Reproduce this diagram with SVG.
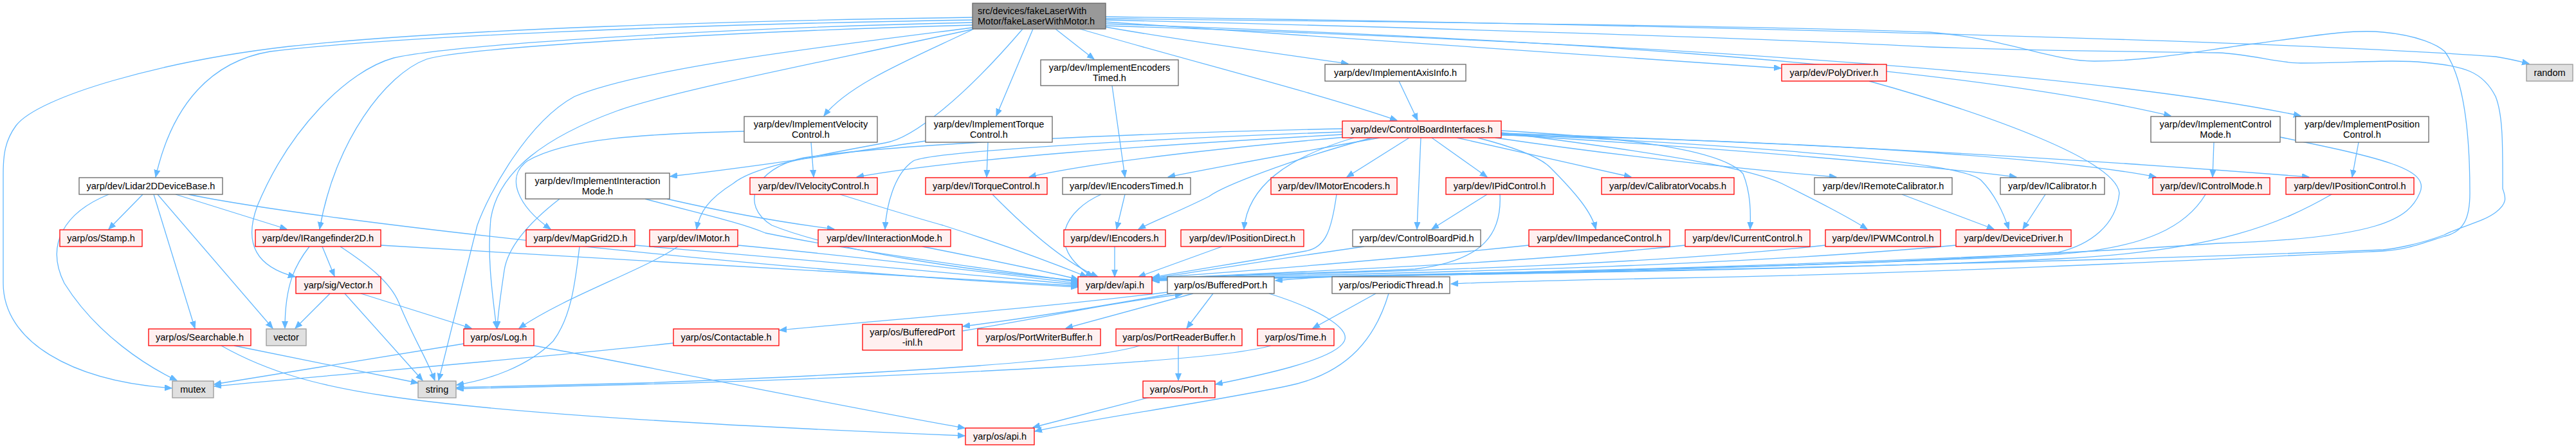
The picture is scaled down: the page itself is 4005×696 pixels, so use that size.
<svg xmlns="http://www.w3.org/2000/svg" width="4005" height="696" viewBox="0 0 4005 696">
<style>
text{font-family:"Liberation Sans",Arial,sans-serif;font-size:14.5px;fill:#000;text-anchor:middle}
.l{text-anchor:start}
.r{fill:#fff0f0;stroke:#f00;stroke-width:1.3}
.w{fill:#fff;stroke:#666;stroke-width:1.3}
.g{fill:#e0e0e0;stroke:#999;stroke-width:1.3}
.t{fill:#999;stroke:#666;stroke-width:1.3}
#edges path{fill:none;stroke:#63b8ff;stroke-width:1.3;marker-end:url(#a)}
</style>
<defs>
<marker id="a" markerWidth="12" markerHeight="10" refX="11" refY="4.5" orient="auto" markerUnits="userSpaceOnUse"><path d="M0,0 L11,4.5 L0,9 z" fill="#63b8ff" stroke="#63b8ff" stroke-width="1"/></marker>
</defs>
<rect width="4005" height="696" fill="#fff"/>
<g id="edges">
<path d="M1512,27 C1150,32 700,45 450,72 C250,95 60,150 25,195 C8,218 5,240 5,270 L5,440 C5,530 110,592 267,603"/>
<path d="M1512,31 C1050,38 600,58 420,80 C330,95 268,160 242,275"/>
<path d="M1512,35 C1100,44 700,70 612,90 C540,110 450,200 400,320 C378,380 400,415 459,430"/>
<path d="M1512,39 C1100,50 720,75 663,92 C600,115 520,220 497,356"/>
<path d="M1512,43 C1300,70 1000,105 893,150 C820,190 760,300 742,350 L682,591"/>
<path d="M1514,45 C1300,92 1050,140 960,172 C850,212 775,265 763,340 C757,400 766,460 772,510"/>
<path d="M1590,45 C1500,150 1420,215 1376,222 C1250,245 1170,260 1140,285 C1100,310 1088,330 1083,356"/>
<path d="M1512,46 C1420,90 1320,130 1281,180"/>
<path d="M1606,45 L1549,180"/>
<path d="M1641,45 L1701,92"/>
<path d="M1679,45 C1850,95 2050,145 2172,187"/>
<path d="M1719,42 C1850,65 2000,85 2096,99"/>
<path d="M1719,34 C2100,60 2500,85 2769,106"/>
<path d="M1719,26 C2400,35 3500,60 3880,88 C3905,92 3920,96 3932,99"/>
<path d="M1719,37 C2300,57 3000,92 3375,180"/>
<path d="M1719,40 C2400,62 3200,102 3577,180"/>
<path d="M1719,29 C2300,35 2800,42 3000,50 C3120,60 3190,95 3256,95 C3350,95 3440,75 3513,67 C3600,55 3660,45 3705,50 C3760,55 3790,70 3801,80 C3830,120 3840,200 3840,300 C3840,340 3830,360 3801,367 C3760,380 3740,388 3705,390 C3400,405 3000,425 2600,432 C2400,436 2300,439 2256,441"/>
<path d="M1719,31 C2300,45 2800,62 3000,73 C3200,80 3350,80 3449,82 C3500,84 3540,98 3577,98 C3650,98 3720,92 3769,97 C3830,103 3860,110 3880,150 C3892,180 3891,230 3891,293 C3895,305 3900,315 3880,330 C3860,345 3830,350 3800,365 C3760,380 3720,387 3705,388 C3300,405 2600,420 2300,426 C2150,427 2050,429 1983,436"/>
<path d="M1439,219 C1300,240 1150,262 1042,274"/>
<path d="M2087,200 C1800,206 1400,222 1250,245 C1170,262 1150,320 1200,350 C1300,390 1500,420 1676,436"/>
<path d="M2087,205 C1800,215 1450,235 1420,250 C1390,270 1378,320 1376,356"/>
<path d="M2087,209 C1800,225 1500,245 1332,275"/>
<path d="M2092,213 C1900,230 1700,252 1600,275"/>
<path d="M2145,214 C2000,240 1900,258 1816,275"/>
<path d="M2133,214 C2000,250 1900,290 1880,305 C1830,330 1790,345 1770,356"/>
<path d="M2105,214 C2000,245 1940,290 1934,356"/>
<path d="M2191,214 L2094,275"/>
<path d="M2209,214 L2203,356"/>
<path d="M2226,214 L2312,275"/>
<path d="M2265,214 L2536,275"/>
<path d="M2325,214 C2500,240 2700,262 2855,275"/>
<path d="M2297,214 C2340,225 2390,240 2410,260 C2450,300 2475,330 2481,356"/>
<path d="M2334,203 C2550,215 2680,235 2710,270 C2722,300 2722,330 2721,356"/>
<path d="M2334,206 C2600,240 2720,262 2770,285 C2820,310 2870,335 2903,356"/>
<path d="M2334,208 C2700,225 3050,250 3080,280 C3100,300 3115,330 3123,356"/>
<path d="M2334,209 C2700,232 3000,258 3135,275"/>
<path d="M2334,210 C2800,218 3200,245 3352,275"/>
<path d="M2334,207 C2900,225 3300,252 3590,275"/>
<path d="M293,302 C500,345 1200,420 1676,446"/>
<path d="M592,381 C900,400 1400,428 1676,444"/>
<path d="M987,381 C1200,400 1500,425 1676,442"/>
<path d="M1147,381 C1350,400 1550,425 1676,440"/>
<path d="M1003,309 C1080,330 1150,345 1190,362 C1350,395 1560,420 1676,438"/>
<path d="M1434,383 C1520,400 1620,420 1676,434"/>
<path d="M1306,302 C1380,325 1430,340 1466,350 C1560,380 1640,410 1690,430"/>
<path d="M1543,302 C1600,360 1660,410 1707,430"/>
<path d="M1712,302 C1660,325 1620,380 1699,430"/>
<path d="M1733,383 L1733,430"/>
<path d="M1900,383 L1770,430"/>
<path d="M2078,302 C2070,360 2060,385 2030,390 C1950,405 1850,420 1792,431"/>
<path d="M2121,383 C2000,400 1880,420 1792,432"/>
<path d="M2377,381 C2100,410 1900,423 1792,432"/>
<path d="M2620,381 C2300,415 1950,424 1792,433"/>
<path d="M2838,381 C2500,418 2000,425 1792,433"/>
<path d="M3041,381 C2600,422 2000,426 1792,434"/>
<path d="M2332,302 C2335,360 2310,405 2200,418 C2050,425 1900,426 1792,434"/>
<path d="M3429,302 C3400,350 3340,385 3200,395 C2800,418 2100,427 1792,435"/>
<path d="M3625,302 C3550,345 3450,390 3200,402 C2800,422 2100,428 1792,435"/>
<path d="M3545,213 C3700,245 3780,262 3762,300 C3745,340 3700,370 3449,378 C3000,410 2200,428 1792,436"/>
<path d="M2906,126 C3100,180 3290,250 3295,300 C3290,350 3250,380 3200,392 C2800,420 2100,429 1792,436"/>
<path d="M1749,302 L1736,356"/>
<path d="M1729,133 L1749,275"/>
<path d="M2175,126 L2204,187"/>
<path d="M3442,221 L3440,275"/>
<path d="M3667,221 L3657,275"/>
<path d="M1261,221 L1265,275"/>
<path d="M1536,221 L1534,275"/>
<path d="M1157,204 C1000,208 880,215 820,250 C785,275 805,320 856,356"/>
<path d="M1037,309 C1150,335 1250,350 1297,356"/>
<path d="M870,309 C830,340 790,380 784,420 C778,460 774,490 773,510"/>
<path d="M1054,383 C1000,420 880,460 807,510"/>
<path d="M2312,302 L2226,356"/>
<path d="M2957,302 L3100,356"/>
<path d="M3180,302 L3145,356"/>
<path d="M169,302 C100,330 70,380 100,440 C150,520 230,570 275,591"/>
<path d="M222,302 L169,356"/>
<path d="M239,302 L303,510"/>
<path d="M245,302 L424,510"/>
<path d="M273,302 L446,356"/>
<path d="M481,383 C460,410 443,440 443,510"/>
<path d="M501,383 L520,429"/>
<path d="M529,383 C570,410 606,437 620,470 C640,520 665,560 676,591"/>
<path d="M901,383 C895,430 890,490 860,530 C820,570 760,590 710,598"/>
<path d="M513,456 L459,510"/>
<path d="M536,456 L657,591"/>
<path d="M561,456 L733,510"/>
<path d="M364,537 L650,595"/>
<path d="M344,537 C420,580 500,600 600,615 C800,645 1200,665 1500,677"/>
<path d="M721,534 L333,597"/>
<path d="M830,537 C1000,568 1300,630 1500,665"/>
<path d="M1047,533 C900,550 600,575 333,600"/>
<path d="M2139,456 L2041,510"/>
<path d="M2159,456 C2140,520 2100,580 2000,600 C1850,630 1700,650 1609,670"/>
<path d="M1973,456 C2050,480 2100,510 2090,530 C2075,560 1950,585 1890,597"/>
<path d="M1886,456 L1845,510"/>
<path d="M1855,456 L1657,510"/>
<path d="M1822,456 C1700,478 1600,494 1497,507"/>
<path d="M1497,514 C1620,494 1730,470 1838,457"/>
<path d="M1815,454 C1600,480 1400,495 1212,513"/>
<path d="M1832,537 L1832,591"/>
<path d="M1772,537 C1700,560 1400,580 1000,595 L710,602"/>
<path d="M1976,537 C1900,560 1500,582 1000,597 L710,604"/>
<path d="M1788,617 L1606,664"/>
</g>
<g id="n0"><rect class="t" x="1512" y="5" width="207" height="40"/><text class="l" x="1520" y="22">src/devices/fakeLaserWith</text><text class="l" x="1520" y="38">Motor/fakeLaserWithMotor.h</text></g>
<g id="n1"><rect class="w" x="1618" y="93" width="214" height="40"/><text x="1725" y="110">yarp/dev/ImplementEncoders</text><text x="1725" y="126">Timed.h</text></g>
<g id="n2"><rect class="w" x="2060" y="100" width="219" height="26"/><text x="2169.5" y="118">yarp/dev/ImplementAxisInfo.h</text></g>
<g id="n3"><rect class="r" x="2770" y="100" width="163" height="26"/><text x="2851.5" y="118">yarp/dev/PolyDriver.h</text></g>
<g id="n4"><rect class="g" x="3928" y="100" width="72" height="26"/><text x="3964" y="118">random</text></g>
<g id="n5"><rect class="w" x="1157" y="181" width="207" height="40"/><text x="1260.5" y="198">yarp/dev/ImplementVelocity</text><text x="1260.5" y="214">Control.h</text></g>
<g id="n6"><rect class="w" x="1439" y="181" width="197" height="40"/><text x="1537.5" y="198">yarp/dev/ImplementTorque</text><text x="1537.5" y="214">Control.h</text></g>
<g id="n7"><rect class="r" x="2087" y="188" width="247" height="26"/><text x="2210.5" y="206">yarp/dev/ControlBoardInterfaces.h</text></g>
<g id="n8"><rect class="w" x="3344" y="181" width="201" height="40"/><text x="3444.5" y="198">yarp/dev/ImplementControl</text><text x="3444.5" y="214">Mode.h</text></g>
<g id="n9"><rect class="w" x="3569" y="181" width="207" height="40"/><text x="3672.5" y="198">yarp/dev/ImplementPosition</text><text x="3672.5" y="214">Control.h</text></g>
<g id="n10"><rect class="w" x="123" y="276" width="223" height="26"/><text x="234.5" y="294">yarp/dev/Lidar2DDeviceBase.h</text></g>
<g id="n11"><rect class="w" x="817" y="269" width="224" height="40"/><text x="929" y="286">yarp/dev/ImplementInteraction</text><text x="929" y="302">Mode.h</text></g>
<g id="n12"><rect class="r" x="1166" y="276" width="198" height="26"/><text x="1265" y="294">yarp/dev/IVelocityControl.h</text></g>
<g id="n13"><rect class="r" x="1439" y="276" width="189" height="26"/><text x="1533.5" y="294">yarp/dev/ITorqueControl.h</text></g>
<g id="n14"><rect class="w" x="1652" y="276" width="199" height="26"/><text x="1751.5" y="294">yarp/dev/IEncodersTimed.h</text></g>
<g id="n15"><rect class="r" x="1976" y="276" width="196" height="26"/><text x="2074" y="294">yarp/dev/IMotorEncoders.h</text></g>
<g id="n16"><rect class="r" x="2248" y="276" width="167" height="26"/><text x="2331.5" y="294">yarp/dev/IPidControl.h</text></g>
<g id="n17"><rect class="r" x="2490" y="276" width="206" height="26"/><text x="2593" y="294">yarp/dev/CalibratorVocabs.h</text></g>
<g id="n18"><rect class="w" x="2821" y="276" width="214" height="26"/><text x="2928" y="294">yarp/dev/IRemoteCalibrator.h</text></g>
<g id="n19"><rect class="w" x="3110" y="276" width="162" height="26"/><text x="3191" y="294">yarp/dev/ICalibrator.h</text></g>
<g id="n20"><rect class="r" x="3347" y="276" width="182" height="26"/><text x="3438" y="294">yarp/dev/IControlMode.h</text></g>
<g id="n21"><rect class="r" x="3554" y="276" width="199" height="26"/><text x="3653.5" y="294">yarp/dev/IPositionControl.h</text></g>
<g id="n22"><rect class="r" x="93" y="357" width="128" height="26"/><text x="157" y="375">yarp/os/Stamp.h</text></g>
<g id="n23"><rect class="r" x="397" y="357" width="195" height="26"/><text x="494.5" y="375">yarp/dev/IRangefinder2D.h</text></g>
<g id="n24"><rect class="r" x="818" y="357" width="169" height="26"/><text x="902.5" y="375">yarp/dev/MapGrid2D.h</text></g>
<g id="n25"><rect class="r" x="1010" y="357" width="137" height="26"/><text x="1078.5" y="375">yarp/dev/IMotor.h</text></g>
<g id="n26"><rect class="r" x="1272" y="357" width="206" height="26"/><text x="1375" y="375">yarp/dev/IInteractionMode.h</text></g>
<g id="n27"><rect class="r" x="1654" y="357" width="158" height="26"/><text x="1733" y="375">yarp/dev/IEncoders.h</text></g>
<g id="n28"><rect class="r" x="1836" y="357" width="191" height="26"/><text x="1931.5" y="375">yarp/dev/IPositionDirect.h</text></g>
<g id="n29"><rect class="w" x="2103" y="357" width="199" height="26"/><text x="2202.5" y="375">yarp/dev/ControlBoardPid.h</text></g>
<g id="n30"><rect class="r" x="2377" y="357" width="219" height="26"/><text x="2486.5" y="375">yarp/dev/IImpedanceControl.h</text></g>
<g id="n31"><rect class="r" x="2620" y="357" width="194" height="26"/><text x="2717" y="375">yarp/dev/ICurrentControl.h</text></g>
<g id="n32"><rect class="r" x="2838" y="357" width="179" height="26"/><text x="2927.5" y="375">yarp/dev/IPWMControl.h</text></g>
<g id="n33"><rect class="r" x="3041" y="357" width="179" height="26"/><text x="3130.5" y="375">yarp/dev/DeviceDriver.h</text></g>
<g id="n34"><rect class="r" x="460" y="430" width="132" height="26"/><text x="526" y="448">yarp/sig/Vector.h</text></g>
<g id="n35"><rect class="r" x="1676" y="430" width="115" height="26" stroke-width="1.8"/><text x="1733.5" y="448">yarp/dev/api.h</text></g>
<g id="n36"><rect class="w" x="1815" y="430" width="166" height="26"/><text x="1898" y="448">yarp/os/BufferedPort.h</text></g>
<g id="n37"><rect class="w" x="2071" y="430" width="183" height="26"/><text x="2162.5" y="448">yarp/os/PeriodicThread.h</text></g>
<g id="n38"><rect class="r" x="231" y="511" width="159" height="26"/><text x="310.5" y="529">yarp/os/Searchable.h</text></g>
<g id="n39"><rect class="g" x="414" y="511" width="62" height="26"/><text x="445" y="529">vector</text></g>
<g id="n40"><rect class="r" x="721" y="511" width="109" height="26"/><text x="775.5" y="529">yarp/os/Log.h</text></g>
<g id="n41"><rect class="r" x="1047" y="511" width="164" height="26"/><text x="1129" y="529">yarp/os/Contactable.h</text></g>
<g id="n42"><rect class="r" x="1341" y="504" width="155" height="40"/><text x="1418.5" y="521">yarp/os/BufferedPort</text><text x="1418.5" y="537">-inl.h</text></g>
<g id="n43"><rect class="r" x="1520" y="511" width="191" height="26"/><text x="1615.5" y="529">yarp/os/PortWriterBuffer.h</text></g>
<g id="n44"><rect class="r" x="1735" y="511" width="196" height="26"/><text x="1833" y="529">yarp/os/PortReaderBuffer.h</text></g>
<g id="n45"><rect class="r" x="1955" y="511" width="119" height="26"/><text x="2014.5" y="529">yarp/os/Time.h</text></g>
<g id="n46"><rect class="g" x="268" y="592" width="64" height="26"/><text x="300" y="610">mutex</text></g>
<g id="n47"><rect class="g" x="650" y="592" width="59" height="26"/><text x="679.5" y="610">string</text></g>
<g id="n48"><rect class="r" x="1777" y="592" width="112" height="26"/><text x="1833" y="610">yarp/os/Port.h</text></g>
<g id="n49"><rect class="r" x="1501" y="665" width="107" height="26"/><text x="1554.5" y="683">yarp/os/api.h</text></g>
</svg>
